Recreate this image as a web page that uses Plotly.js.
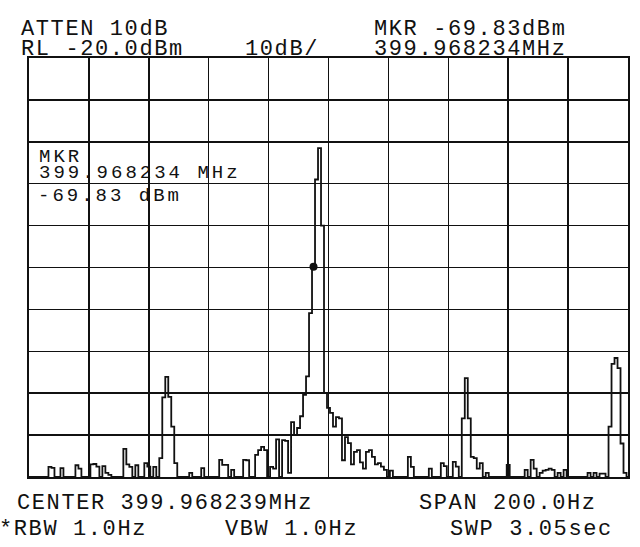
<!DOCTYPE html>
<html>
<head>
<meta charset="utf-8">
<script src="https://cdn.plot.ly/plotly-3.0.1.min.js"></script>
<style>
html,body{margin:0;padding:0;background:#fff;}
#chart{width:640px;height:547px;}
</style>
</head>
<body>
<div id="chart"></div>
<script>
// Frequency offset from center (399.968239 MHz), Hz
const freqOffsetHz = [-100,-99,-98,-97,-96,-95,-94,-93,-92,-91,-90,-89,-88,-87,-86,-85,-84,-83,-82,-81,
-80,-79,-78,-77,-76,-75,-74,-73,-72,-71,-70,-69,-68,-67,-66,-65,-64,-63,-62,-61,
-60,-59,-58,-57,-56,-55,-54,-53,-52,-51,-50,-49,-48,-47,-46,-45,-44,-43,-42,-41,
-40,-39,-38,-37,-36,-35,-34,-33,-32,-31,-30,-29,-28,-27,-26,-25,-24,-23,-22,-21,
-20,-19,-18,-17,-16,-15,-14,-13,-12,-11,-10,-9,-8,-7,-6,-5,-4,-3,-2,-1,
0,1,2,3,4,5,6,7,8,9,10,11,12,13,14,15,16,17,18,19,
20,21,22,23,24,25,26,27,28,29,30,31,32,33,34,35,36,37,38,39,
40,41,42,43,44,45,46,47,48,49,50,51,52,53,54,55,56,57,58,59,
60,61,62,63,64,65,66,67,68,69,70,71,72,73,74,75,76,77,78,79,
80,81,82,83,84,85,86,87,88,89,90,91,92,93,94,95,96,97,98,99,100];
// Trace level, dBm
const levelDbm = [-120,-120,-120,-120,-120,-120,-120,-117.6,-117.8,-120,-120,-117.9,-120,-120,-120,-120,-117.2,-118.0,-120,-120,
-120,-117.0,-116.9,-117.5,-120,-117.4,-119.0,-119.5,-120,-120,-120,-120,-113.3,-117.0,-117.6,-120,-117.2,-120,-120,-116.7,
-117.5,-120,-117.6,-120,-115.5,-101.0,-96.1,-100.9,-108.0,-116.7,-120,-120,-120,-120,-119.0,-120,-120,-120,-117.9,-120,
-120,-120,-120,-120,-115.9,-117.1,-117.1,-120,-118.3,-120,-120,-120,-115.9,-116.0,-120,-120,-114.7,-113.6,-112.8,-113.6,
-120,-117.6,-118.0,-111.0,-120,-111.2,-111.4,-119.0,-106.9,-110.0,-108.3,-105.5,-100.4,-96.0,-80.9,-69.8,-49.0,-41.5,-60.0,-100.0,
-103.5,-104.7,-108.0,-105.7,-106.0,-116.0,-110.5,-111.9,-117.0,-114.0,-113.6,-116.5,-118.0,-114.0,-113.6,-115.2,-117.0,-116.7,-117.5,-118.3,
-120,-118.5,-120,-120,-120,-120,-120,-115.2,-117.6,-120,-120,-120,-120,-120,-118.0,-120,-120,-120,-116.7,-117.4,
-120,-120,-116.4,-117.5,-120,-106.0,-96.4,-106.0,-115.2,-115.5,-118.0,-116.7,-120,-119.0,-120,-120,-120,-120,-120,-120,
-117.1,-120,-120,-120,-120,-120,-118.3,-120,-115.9,-118.0,-120,-119.0,-118.5,-118.3,-118.0,-118.3,-120,-119.0,-120,-118.3,
-120,-120,-120,-120,-120,-120,-120,-119.0,-120,-119.0,-120,-119.2,-119.2,-120,-108.0,-93.0,-91.6,-94.0,-112.0,-119.0,-120];
// Marker
const markerOffsetHz = [-5];
const markerDbm = [-69.83];
// Text labels
const headerTexts = ["ATTEN 10dB", "RL -20.0dBm", "10dB/", "MKR -69.83dBm", "399.968234MHz"];
const footerTexts = ["CENTER 399.968239MHz", "SPAN 200.0Hz", "*RBW 1.0Hz", "VBW 1.0Hz", "SWP 3.05sec"];
const markerBoxTexts = ["MKR", "399.968234 MHz", "-69.83 dBm"];

const FONT = "Liberation Mono, DejaVu Sans Mono, monospace";
function outer(t){ return '<span style="letter-spacing:1.6px">' + t + '</span>'; }
function inner(t){ return '<span style="letter-spacing:3px">' + t + '</span>'; }
function ann(text, x, y, size){
  return {text:text, x:x, y:y, xref:'paper', yref:'paper', xanchor:'left', yanchor:'middle',
    showarrow:false, align:'left', font:{family:FONT, size:size, color:'#111'}};
}

const annotations = [
  ann(outer(headerTexts[0]), -0.0167, 1.067, 22),
  ann(outer(headerTexts[1]), -0.0167, 1.0193, 22),
  ann(outer(headerTexts[2]), 0.3573, 1.0193, 22),
  ann(outer(headerTexts[3]), 0.5726, 1.067, 22),
  ann(outer(headerTexts[4]), 0.5726, 1.0193, 22),
  ann(outer(footerTexts[0]), -0.0234, -0.0631, 22),
  ann(outer(footerTexts[1]), 0.6478, -0.0631, 22),
  ann(outer(footerTexts[2]), -0.0534, -0.1243, 22),
  ann(outer(footerTexts[3]), 0.3239, -0.1243, 22),
  ann(outer(footerTexts[4]), 0.6995, -0.1243, 22),
  ann(inner(markerBoxTexts[0]), 0.013, 0.764, 19),
  ann(inner(markerBoxTexts[1]), 0.013, 0.726, 19),
  ann(inner(markerBoxTexts[2]), 0.0114, 0.671, 19)
];

const data = [
  {x:freqOffsetHz, y:levelDbm, type:'scatter', mode:'lines',
   line:{color:'#111', width:1.8, shape:'hvh'}, hoverinfo:'skip'},
  {x:markerOffsetHz, y:markerDbm, type:'scatter', mode:'markers',
   marker:{color:'#111', size:8}, hoverinfo:'skip'}
];

const layout = {
  width:640, height:547,
  margin:{l:29, r:12, t:58, b:70, pad:0},
  paper_bgcolor:'#fff', plot_bgcolor:'#fff',
  showlegend:false,
  xaxis:{range:[-100,100], dtick:20, tick0:0, showticklabels:false, ticks:'',
    showgrid:true, gridcolor:'#111', gridwidth:1.5, zeroline:false,
    showline:true, mirror:true, linecolor:'#111', linewidth:2},
  yaxis:{range:[-120,-20], dtick:10, tick0:-20, showticklabels:false, ticks:'',
    showgrid:true, gridcolor:'#111', gridwidth:1.5, zeroline:false,
    showline:true, mirror:true, linecolor:'#111', linewidth:2},
  annotations:annotations
};

Plotly.newPlot('chart', data, layout, {displayModeBar:false, staticPlot:true});
</script>
</body>
</html>
